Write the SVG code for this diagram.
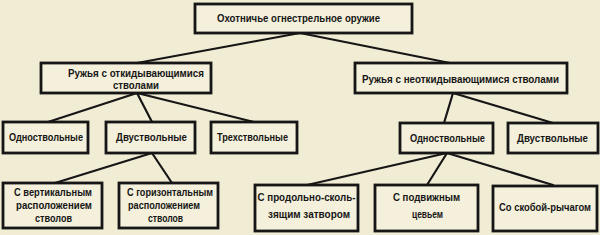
<svg xmlns="http://www.w3.org/2000/svg" width="600" height="235" viewBox="0 0 600 235">
<style>
.bg{fill:#f1edd5}
.box{fill:#f4f0db;stroke:#161616;stroke-width:2.8}
.t{font-family:"Liberation Sans",Arial,sans-serif;font-weight:bold;font-size:11.5px;fill:#161616;text-anchor:middle}
.c{stroke:#161616;stroke-width:2.2;fill:none;stroke-linecap:round}
</style>
<rect class="bg" x="0" y="0" width="600" height="235"/>
<g id="connectors">
<line class="c" x1="300" y1="33" x2="137" y2="63"/>
<line class="c" x1="300" y1="33" x2="450" y2="63"/>
<line class="c" x1="137" y1="93" x2="48" y2="122"/>
<line class="c" x1="137" y1="93" x2="152" y2="122"/>
<line class="c" x1="137" y1="93" x2="254" y2="122"/>
<line class="c" x1="453" y1="93" x2="444" y2="123"/>
<line class="c" x1="453" y1="93" x2="553" y2="123"/>
<line class="c" x1="152" y1="153" x2="55" y2="183"/>
<line class="c" x1="152" y1="153" x2="172" y2="183"/>
<line class="c" x1="447" y1="153" x2="307" y2="185"/>
<line class="c" x1="447" y1="153" x2="427" y2="185"/>
<line class="c" x1="447" y1="153" x2="553" y2="185"/>
</g>
<g id="root">
<rect class="box" x="195" y="4" width="217" height="29"/>
<text class="t" x="298.5" y="22" textLength="163" lengthAdjust="spacingAndGlyphs">Охотничье огнестрельное оружие</text>
</g>
<g id="breaking">
<rect class="box" x="41" y="63" width="170" height="30"/>
<text class="t" x="136" y="77" textLength="136" lengthAdjust="spacingAndGlyphs">Ружья с откидывающимися</text>
<text class="t" x="136" y="89" textLength="46" lengthAdjust="spacingAndGlyphs">стволами</text>
</g>
<g id="nonbreaking">
<rect class="box" x="355" y="63" width="212" height="30"/>
<text class="t" x="460.5" y="83" textLength="197" lengthAdjust="spacingAndGlyphs">Ружья с неоткидывающимися стволами</text>
</g>
<g id="left-single">
<rect class="box" x="3" y="122" width="85" height="31"/>
<text class="t" x="46" y="141" textLength="74" lengthAdjust="spacingAndGlyphs">Одноствольные</text>
</g>
<g id="left-double">
<rect class="box" x="106" y="122" width="89" height="31"/>
<text class="t" x="151.5" y="141" textLength="71" lengthAdjust="spacingAndGlyphs">Двуствольные</text>
</g>
<g id="left-triple">
<rect class="box" x="211" y="122" width="86" height="31"/>
<text class="t" x="252.5" y="141" textLength="71" lengthAdjust="spacingAndGlyphs">Трехствольные</text>
</g>
<g id="right-single">
<rect class="box" x="400" y="123" width="93" height="30"/>
<text class="t" x="447.5" y="142" textLength="75" lengthAdjust="spacingAndGlyphs">Одноствольные</text>
</g>
<g id="right-double">
<rect class="box" x="508" y="123" width="90" height="30"/>
<text class="t" x="552.5" y="142" textLength="71" lengthAdjust="spacingAndGlyphs">Двуствольные</text>
</g>
<g id="vertical">
<rect class="box" x="3" y="183" width="99" height="45"/>
<text class="t" x="53" y="196" textLength="78" lengthAdjust="spacingAndGlyphs">С вертикальным</text>
<text class="t" x="54" y="209" textLength="76" lengthAdjust="spacingAndGlyphs">расположением</text>
<text class="t" x="53.5" y="222" textLength="37" lengthAdjust="spacingAndGlyphs">стволов</text>
</g>
<g id="horizontal">
<rect class="box" x="119" y="183" width="99" height="45"/>
<text class="t" x="170" y="196" textLength="86" lengthAdjust="spacingAndGlyphs">С горизонтальным</text>
<text class="t" x="164" y="209" textLength="72" lengthAdjust="spacingAndGlyphs">расположением</text>
<text class="t" x="165.5" y="222" textLength="35" lengthAdjust="spacingAndGlyphs">стволов</text>
</g>
<g id="bolt">
<rect class="box" x="255" y="185" width="103" height="46"/>
<text class="t" x="306.5" y="201" textLength="98" lengthAdjust="spacingAndGlyphs">С продольно-сколь-</text>
<text class="t" x="309" y="218" textLength="82" lengthAdjust="spacingAndGlyphs">зящим затвором</text>
</g>
<g id="pump">
<rect class="box" x="375" y="185" width="103" height="46"/>
<text class="t" x="426.5" y="201" textLength="67" lengthAdjust="spacingAndGlyphs">С подвижным</text>
<text class="t" x="427.5" y="218" textLength="31" lengthAdjust="spacingAndGlyphs">цевьем</text>
</g>
<g id="lever">
<rect class="box" x="493" y="186" width="104" height="45"/>
<text class="t" x="545" y="211" style="font-size:10px" textLength="92" lengthAdjust="spacingAndGlyphs">Со скобой-рычагом</text>
</g>
</svg>
